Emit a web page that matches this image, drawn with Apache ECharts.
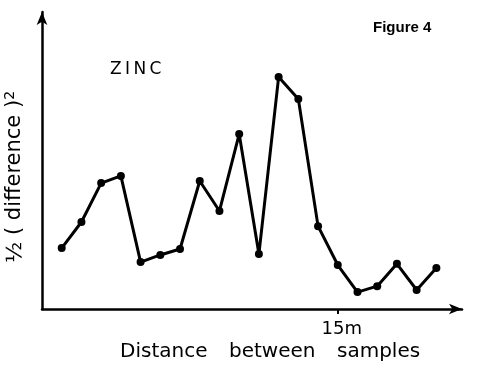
<!DOCTYPE html>
<html><head><meta charset="utf-8">
<script src="https://cdn.jsdelivr.net/npm/echarts@6/dist/echarts.min.js"></script>
<style>html,body{margin:0;padding:0;background:#fff}#c{width:480px;height:374px}</style>
</head><body><div id="c"></div>
<script>
var distances = [1,2,3,4,5,6,7,8,9,10,11,12,13,14,15,16,17,18,19,20];
var zincValues = [20.5,29.3,42.4,44.8,15.8,18.2,20.2,43.1,33.0,58.9,18.5,78.1,70.7,27.9,14.8,5.7,7.7,15.2,6.4,13.8];
var xTickValues = [15];
var xTickLabel = '15m';

var chart = echarts.init(document.getElementById('c'), null, {renderer:'canvas'});
var data = distances.map(function(d,i){return [d, zincValues[i]];});
function txt(s, size, weight, family){
  return {text:s, fontSize:size, fontWeight:weight||'normal', fontFamily:family||'DejaVu Sans', fill:'#000'};
}
chart.setOption({
  animation:false,
  backgroundColor:'#fff',
  grid:{left:42, top:12, right:18, bottom:65},
  xAxis:{type:'value', min:0, max:21.3,
    axisLine:{show:true, symbol:['none','arrow'], symbolSize:[8,13], lineStyle:{color:'#000', width:2.5}},
    axisTick:{show:true, customValues:xTickValues, length:5, lineStyle:{color:'#000', width:2}},
    axisLabel:{show:true, customValues:xTickValues, formatter:function(){return xTickLabel;}, color:'#000', fontSize:18, fontFamily:'DejaVu Sans', margin:11, padding:[0,0,0,8]},
    splitLine:{show:false}},
  yAxis:{type:'value', min:0, max:100,
    axisLine:{show:true, symbol:['none','arrow'], symbolSize:[8,13], lineStyle:{color:'#000', width:2.5}},
    axisTick:{show:false}, axisLabel:{show:false}, splitLine:{show:false}},
  series:[{type:'line', data:data, symbol:'circle', symbolSize:8,
    itemStyle:{color:'#000'}, lineStyle:{color:'#000', width:3}}],
  graphic:[
    {type:'text', left:373, top:20, style:txt('Figure 4', 15, 'bold', 'Liberation Sans')},
    {type:'text', left:110, top:61, style:txt('Z\u2009I\u2009N\u2009C', 17)},
    {type:'text', left:120, top:342, style:txt('Distance', 20)},
    {type:'text', left:229, top:342, style:txt('between', 20)},
    {type:'text', left:337, top:342, style:txt('samples', 20)},
    {type:'text', x:3, y:263, rotation:Math.PI/2, style:{
      text:'{f|½} ( difference ){s|2}', fontSize:21, fontFamily:'DejaVu Sans', fill:'#000',
      rich:{f:{fontSize:22, fontFamily:'DejaVu Sans'}, s:{fontSize:14, fontFamily:'DejaVu Sans', verticalAlign:'top', padding:[0,0,10,0]}}}}
  ]
});
</script></body></html>
